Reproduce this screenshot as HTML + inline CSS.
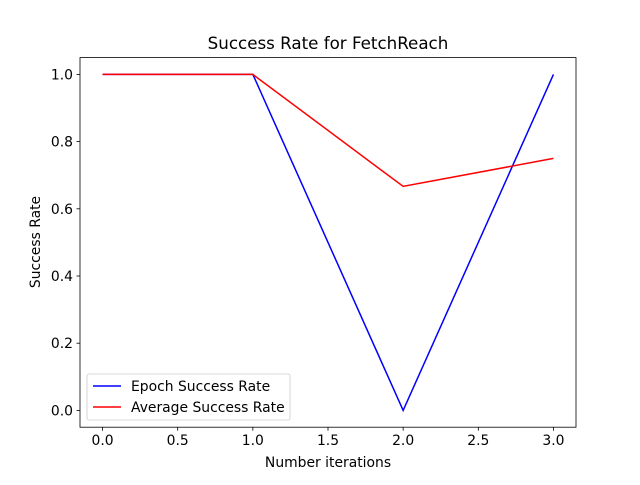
<!DOCTYPE html>
<html><head><meta charset="utf-8"><style>body{margin:0;background:#fff}svg{font-family:"DejaVu Sans","Liberation Sans",sans-serif}</style></head>
<body>
<svg id="c" width="640" height="480">
<rect x="0" y="0" width="640" height="480" fill="#fff"/>
<text x="328" y="49" font-size="16.7" text-anchor="middle">Success Rate for FetchReach</text>
<g id="plot"></g>
<rect x="80" y="57.6" width="496" height="369.6" fill="none" stroke="#000" stroke-width="0.8"/>
<text x="328" y="467" font-size="13.9" text-anchor="middle">Number iterations</text>
<text transform="translate(40,242) rotate(-90)" font-size="13.9" text-anchor="middle">Success Rate</text>
<g>
<rect x="87" y="374" width="203" height="46" rx="2" fill="#fff" fill-opacity="0.8" stroke="#ccc" stroke-width="0.8"/>
<line x1="93" y1="386" x2="121" y2="386" stroke="#0000ff" stroke-width="1.5"/>
<text x="131" y="391" font-size="13.9">Epoch Success Rate</text>
<line x1="93" y1="407" x2="121" y2="407" stroke="#ff0000" stroke-width="1.5"/>
<text x="131" y="412" font-size="13.9">Average Success Rate</text>
</g>
</svg>
<script>
const iterations=[0,1,2,3];
const epochRate=[1,1,0,1];
const averageRate=[1,1,0.6667,0.75];
const xTicks=[0,0.5,1,1.5,2,2.5,3];
const xTickLabels=["0.0","0.5","1.0","1.5","2.0","2.5","3.0"];
const yTicks=[0,0.2,0.4,0.6,0.8,1];
const yTickLabels=["0.0","0.2","0.4","0.6","0.8","1.0"];
const NS="http://www.w3.org/2000/svg";
const L=80,R=576,T=57.6,B=427.2;
const xs=v=>L+(v+0.15)/3.3*(R-L);
const ys=v=>B-(v+0.05)/1.1*(B-T);
const g=document.getElementById('plot');
function mk(t,a){const e=document.createElementNS(NS,t);for(const k in a)e.setAttribute(k,a[k]);g.appendChild(e);return e;}
xTicks.forEach((v,i)=>{
 const l=mk('line',{x1:xs(v),x2:xs(v),y1:B,y2:B+3.5,stroke:'#000','stroke-width':0.8});
 
 
 const t=mk('text',{x:xs(v),y:B+18,'font-size':13.9,'text-anchor':'middle'});t.textContent=xTickLabels[i];
 
 
});
yTicks.forEach((v,i)=>{
 const l=mk('line',{x1:L-3.5,x2:L,y1:ys(v),y2:ys(v),stroke:'#000','stroke-width':0.8});
 
 
 const t=mk('text',{x:L-7,y:ys(v)+5,'font-size':13.9,'text-anchor':'end'});t.textContent=yTickLabels[i];
 
 
});
function line(vals,color,name){
 const p=mk('polyline',{points:vals.map((v,i)=>xs(iterations[i])+','+ys(v)).join(' '),fill:'none',stroke:color,'stroke-width':1.5});
 
 
}
line(epochRate,'#0000ff','epoch-success-line');
line(averageRate,'#ff0000','average-success-line');
</script>
</body></html>
